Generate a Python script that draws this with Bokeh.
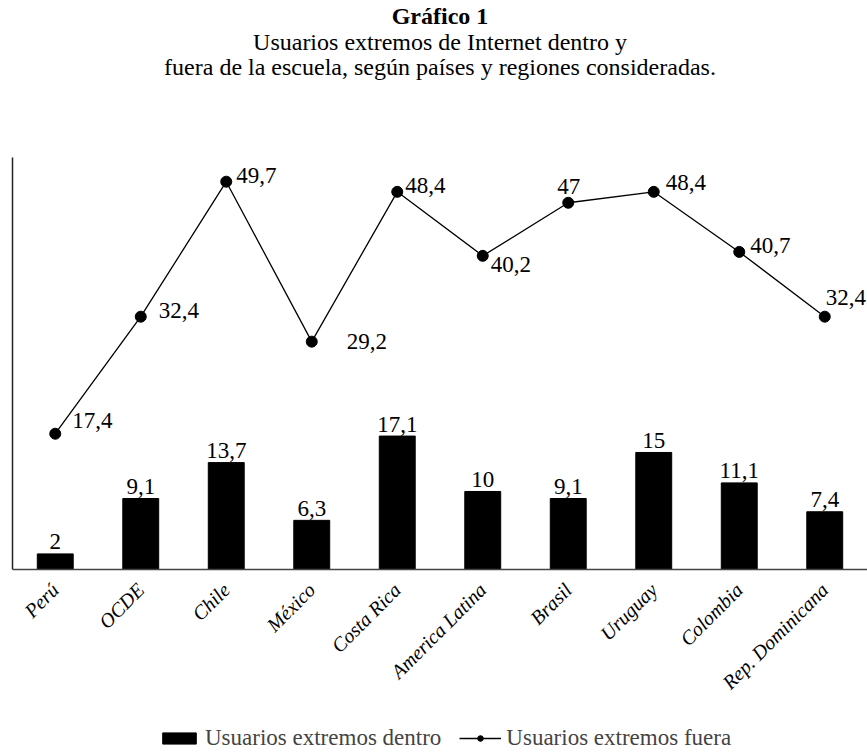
from bokeh.plotting import figure
from bokeh.models import (ColumnDataSource, Title, Legend, LegendItem, Range1d,
                          FactorRange, FixedTicker)
from bokeh.core.properties import value
from bokeh.embed import file_html
from bokeh.resources import INLINE
import math

categories = ["Perú", "OCDE", "Chile", "México", "Costa Rica", "America Latina",
              "Brasil", "Uruguay", "Colombia", "Rep. Dominicana"]
dentro = [2, 9.1, 13.7, 6.3, 17.1, 10, 9.1, 15, 11.1, 7.4]
fuera = [17.4, 32.4, 49.7, 29.2, 48.4, 40.2, 47, 48.4, 40.7, 32.4]

# screen-pixel placement of the line value labels (left edge, vertical middle)
fuera_dx = [17, 18, 10, 35, 8, 8, -11, 12, 11, 1]
fuera_dy = [-13, -6, -6, 0, -6, 9, -16, -9, -6, -19]

def fmt(v):
    return f"{v:g}".replace(".", ",")

FONT = "Liberation Serif"
VAL_SIZE = "23px"
Y_TOP = 52.8
FRAME_H = 594
PX_PER_UNIT = 412 / Y_TOP
Y_BOTTOM = Y_TOP - FRAME_H / PX_PER_UNIT   # room below the baseline for labels and legend

src = ColumnDataSource(dict(
    cat=categories, dentro=dentro, fuera=fuera,
    dlab=[fmt(v) for v in dentro], flab=[fmt(v) for v in fuera],
    dx=fuera_dx, dy=fuera_dy,
))

p = figure(x_range=FactorRange(*categories, range_padding=0),
           y_range=Range1d(Y_BOTTOM, Y_TOP),
           frame_width=855, frame_height=FRAME_H,
           output_backend="svg", toolbar_location=None,
           min_border_left=12, min_border_right=0, min_border_top=0,
           min_border_bottom=0)
p.outline_line_color = None
p.background_fill_color = "white"
p.border_fill_color = "white"
p.grid.grid_line_color = None

bars = p.vbar(x="cat", top="dentro", width=0.42, source=src,
              fill_color="black", line_color="black")
line = p.line(x="cat", y="fuera", source=src, line_color="black", line_width=1.3)
dots = p.scatter(x="cat", y="fuera", source=src, size=11, marker="circle",
                 fill_color="black", line_color="black")

p.text(x="cat", y="dentro", text="dlab", source=src, text_align="center",
       text_baseline="alphabetic", y_offset=-12, text_font=value(FONT),
       text_font_size=VAL_SIZE, text_color="black")
p.text(x="cat", y="fuera", text="flab", source=src, text_align="left",
       text_baseline="middle", x_offset="dx", y_offset="dy",
       text_font=value(FONT), text_font_size=VAL_SIZE, text_color="black")

xa = p.xaxis[0]
xa.fixed_location = 0
xa.major_label_orientation = math.pi / 4
xa.major_label_text_font = FONT
xa.major_label_text_font_style = "italic"
xa.major_label_text_font_size = "20px"
xa.major_label_text_color = "black"
xa.major_tick_line_color = None
xa.minor_tick_line_color = None
xa.axis_line_color = "#444444"
xa.axis_line_width = 1.5
xa.major_label_standoff = 11

ya = p.yaxis[0]
ya.bounds = (0, Y_TOP)
ya.ticker = FixedTicker(ticks=[])
ya.major_label_standoff = 0
ya.major_tick_line_color = None
ya.minor_tick_line_color = None
ya.major_tick_out = 0
ya.major_tick_in = 0
ya.axis_line_color = "#222222"
ya.axis_line_width = 1.5

legend = Legend(items=[
    LegendItem(label="Usuarios extremos dentro", renderers=[bars]),
    LegendItem(label="Usuarios extremos fuera", renderers=[line, dots]),
], orientation="horizontal", location=(146, 0), label_text_font=FONT,
   label_text_font_size="23px", glyph_width=42, glyph_height=14,
   border_line_color=None, background_fill_alpha=0, spacing=18,
   margin=0, padding=0, label_standoff=5)
p.add_layout(legend, "center")

# title block (added from the frame outward)
p.add_layout(Title(text=" ", text_font=FONT, text_font_size="1px",
                   standoff=76, text_color="white"), "above")
title_lines = [("fuera de la escuela, según países y regiones consideradas.", "normal", -3),
               ("Usuarios extremos de Internet dentro y", "normal", -3),
               ("Gráfico 1", "bold", 0)]
for txt, style, so in title_lines:
    p.add_layout(Title(text=txt, align="center", offset=-7, text_font=FONT,
                       text_font_size="24px", text_font_style=style,
                       text_color="black", standoff=so), "above")

open("out.html", "w").write(file_html(p, INLINE))
